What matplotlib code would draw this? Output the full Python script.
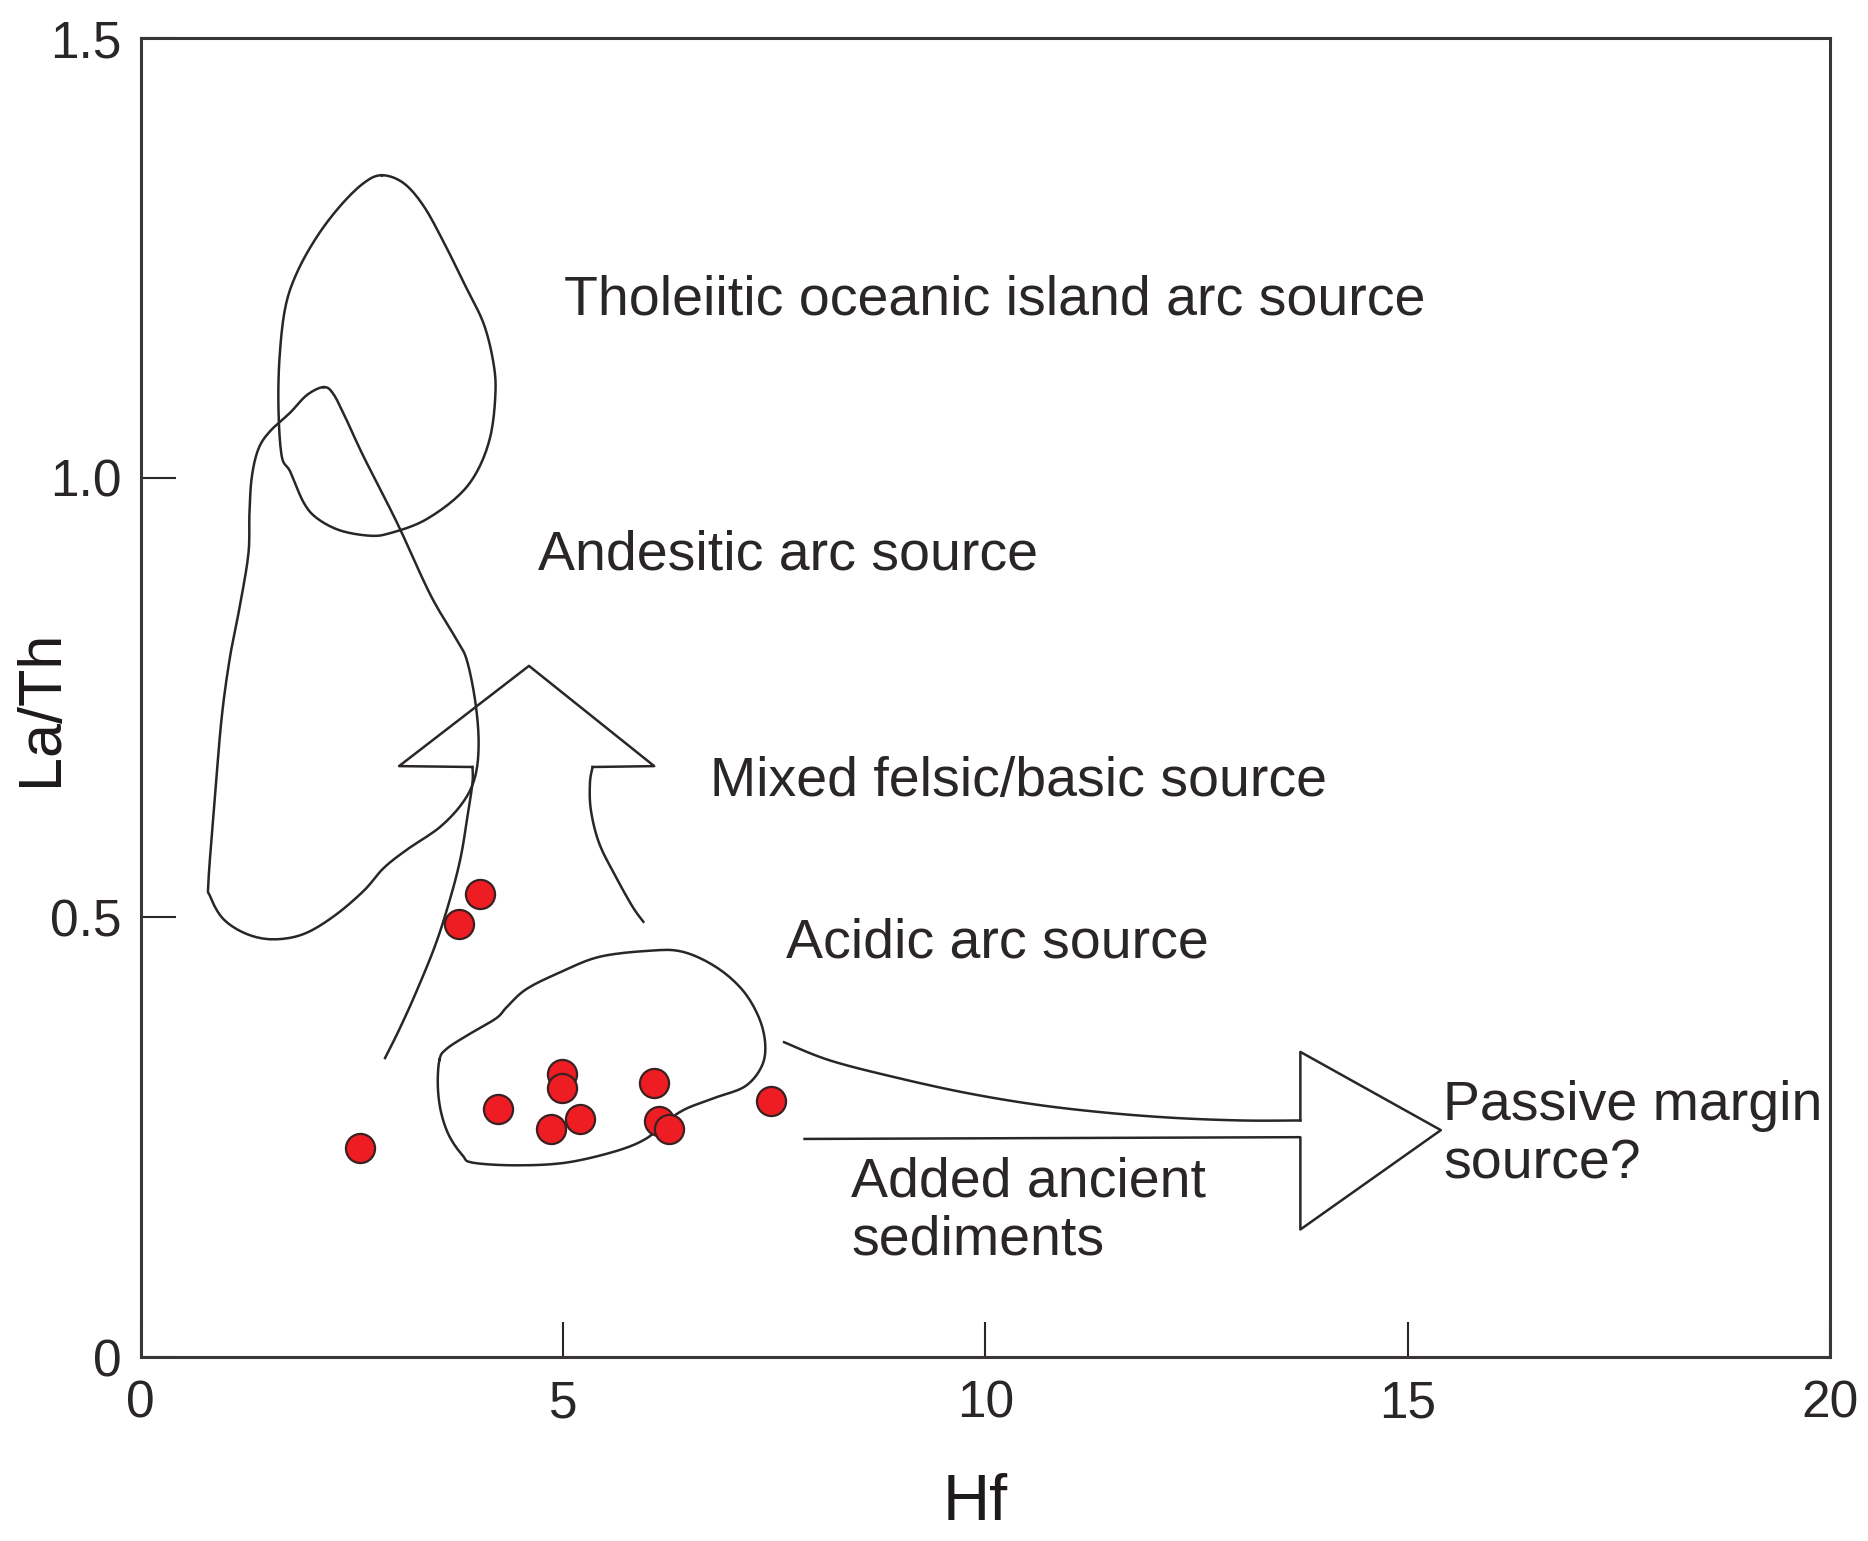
import numpy as np
import matplotlib
matplotlib.use("Agg")
import matplotlib.pyplot as plt

plt.rcParams['font.family'] = ['Liberation Sans', 'DejaVu Sans']

# 样品数据 (Hf, La/Th)
hf = [2.60, 4.02, 3.77, 4.23, 4.86, 4.99, 4.99, 5.20, 6.08, 6.14, 6.25, 7.46]
la_th = [0.238, 0.527, 0.493, 0.282, 0.259, 0.322, 0.306, 0.271, 0.312, 0.268, 0.259, 0.291]

# 判别区域边界 (闭合)
thol_x = [2.856, 3.113, 3.350, 3.587, 3.824, 4.061, 4.179, 4.199, 4.140, 3.982, 3.745, 3.350,
          2.955, 2.718, 2.362, 2.086, 1.928, 1.770, 1.671, 1.632, 1.643, 1.711, 1.849, 2.086,
          2.362, 2.639]
thol_y = [1.344, 1.335, 1.309, 1.268, 1.222, 1.175, 1.129, 1.094, 1.047, 1.007, 0.978, 0.951,
          0.937, 0.934, 0.940, 0.954, 0.972, 1.007, 1.024, 1.076, 1.135, 1.193, 1.233, 1.274,
          1.309, 1.335]

andes_x = [2.165, 1.968, 1.770, 1.533, 1.395, 1.316, 1.288, 1.276, 1.178, 1.059, 0.960, 0.882,
           0.803, 0.822, 0.980, 1.257, 1.573, 1.928, 2.283, 2.639, 2.876, 3.152, 3.547, 3.824,
           3.962, 4.001, 3.962, 3.863, 3.745, 3.429, 3.034, 2.639, 2.441, 2.283]
andes_y = [1.103, 1.094, 1.074, 1.053, 1.033, 1.001, 0.960, 0.914, 0.856, 0.797, 0.728, 0.640,
           0.542, 0.524, 0.498, 0.481, 0.475, 0.481, 0.501, 0.530, 0.556, 0.577, 0.603, 0.632,
           0.661, 0.699, 0.745, 0.792, 0.815, 0.867, 0.949, 1.024, 1.065, 1.095]

acid_x = [3.537, 3.616, 3.852, 4.206, 4.325, 4.560, 4.954, 5.426, 6.017, 6.410, 6.804, 7.119,
          7.315, 7.393, 7.354, 7.158, 6.804, 6.449, 6.213, 5.978, 5.622, 5.032, 4.442, 3.931,
          3.813, 3.655, 3.557, 3.518]
acid_y = [0.338, 0.350, 0.365, 0.385, 0.397, 0.418, 0.437, 0.455, 0.462, 0.461, 0.444, 0.418,
          0.387, 0.357, 0.331, 0.308, 0.295, 0.282, 0.267, 0.248, 0.234, 0.221, 0.218, 0.221,
          0.229, 0.251, 0.278, 0.308]

# 向上箭头: 左侧曲线, 箭头, 右侧曲线
upl_x = [2.893, 3.059, 3.257, 3.494, 3.672, 3.790, 3.869, 3.928, 3.928]
upl_y = [0.340, 0.372, 0.414, 0.470, 0.524, 0.569, 0.615, 0.653, 0.671]
uph_x = [3.928, 3.059, 4.597, 6.080, 5.350]
uph_y = [0.671, 0.672, 0.786, 0.672, 0.671]
upr_x = [5.350, 5.319, 5.330, 5.429, 5.626, 5.824, 5.951]
upr_y = [0.671, 0.653, 0.622, 0.584, 0.546, 0.512, 0.495]

# 向右箭头
rc_x = [7.617, 8.169, 8.980, 9.792, 10.604, 11.415, 12.227, 13.039, 13.729]
rc_y = [0.358, 0.337, 0.317, 0.300, 0.287, 0.278, 0.272, 0.269, 0.269]
rh_x = [13.729, 13.729, 15.392, 13.729, 13.729, 7.859]
rh_y = [0.269, 0.347, 0.258, 0.145, 0.250, 0.248]

labels = ["Tholeiitic oceanic island arc source", "Andesitic arc source",
          "Mixed felsic/basic source", "Acidic arc source",
          "Passive margin\nsource?", "Added ancient\nsediments"]
label_x = [5.01, 4.70, 6.74, 7.64, 15.42, 8.41]
label_y = [1.202, 0.911, 0.654, 0.470, 0.252, 0.165]

line_c = '#2b2626'


def smooth(xs, ys, closed=False, n=10):
    # Catmull-Rom 曲线, 让手绘边界更圆滑
    p = np.column_stack([xs, ys])
    if closed:
        pts = np.vstack([p[-1], p, p[0], p[1]])
    else:
        pts = np.vstack([p[0], p, p[-1]])
    t = np.linspace(0, 1, n, endpoint=False)[:, None]
    out = []
    for i in range(1, len(pts) - 2):
        p0, p1, p2, p3 = pts[i - 1], pts[i], pts[i + 1], pts[i + 2]
        seg = 0.5 * ((2 * p1) + (-p0 + p2) * t + (2 * p0 - 5 * p1 + 4 * p2 - p3) * t ** 2
                     + (-p0 + 3 * p1 - 3 * p2 + p3) * t ** 3)
        out.append(seg)
    out.append(pts[-2][None, :])
    out = np.vstack(out)
    return out[:, 0], out[:, 1]


fig = plt.figure(figsize=(18.68, 15.41), dpi=100)
ax = fig.add_axes([0.0753, 0.1194, 0.9044, 0.8559])

for xs, ys, cl in [(thol_x, thol_y, True), (andes_x, andes_y, True), (acid_x, acid_y, True),
                   (upl_x, upl_y, False), (upr_x, upr_y, False), (rc_x, rc_y, False)]:
    sx, sy = smooth(xs, ys, closed=cl)
    ax.plot(sx, sy, color=line_c, lw=1.8)
ax.plot(uph_x, uph_y, color=line_c, lw=1.8)
ax.plot(rh_x, rh_y, color=line_c, lw=1.8)

ax.scatter(hf, la_th, s=440, facecolor='#ee1d23', edgecolor='#3a2020', linewidth=1.6, zorder=5)

for t, x, y in zip(labels, label_x, label_y):
    ax.text(x, y, t, fontsize=40, color='#2b2626', ha='left', va='center', linespacing=1.15)

ax.set_xlim(0, 20)
ax.set_ylim(0, 1.5)
ax.set_xticks([0, 5, 10, 15, 20])
ax.set_xticklabels(['0', '5', '10', '15', '20'])
ax.set_yticks([0, 0.5, 1.0, 1.5])
ax.set_yticklabels(['0', '0.5', '1.0', '1.5'])
ax.tick_params(direction='in', length=25, width=1.5, colors='#2b2626', labelsize=37)
ax.tick_params(axis='x', pad=16)
ax.tick_params(axis='y', pad=14)
for sp in ax.spines.values():
    sp.set_linewidth(2.2)
    sp.set_color('#3a3636')

ax.set_xlabel("Hf", fontsize=47, color='#1e1a1a')
ax.xaxis.set_label_coords(0.494, -0.111)
ax.xaxis.label.set_va('center')
ax.set_ylabel("La/Th", fontsize=44, color='#1e1a1a')
ax.yaxis.set_label_coords(-0.0585, 0.492)
ax.yaxis.label.set_va('center')

fig.savefig("out.png", dpi=100)
